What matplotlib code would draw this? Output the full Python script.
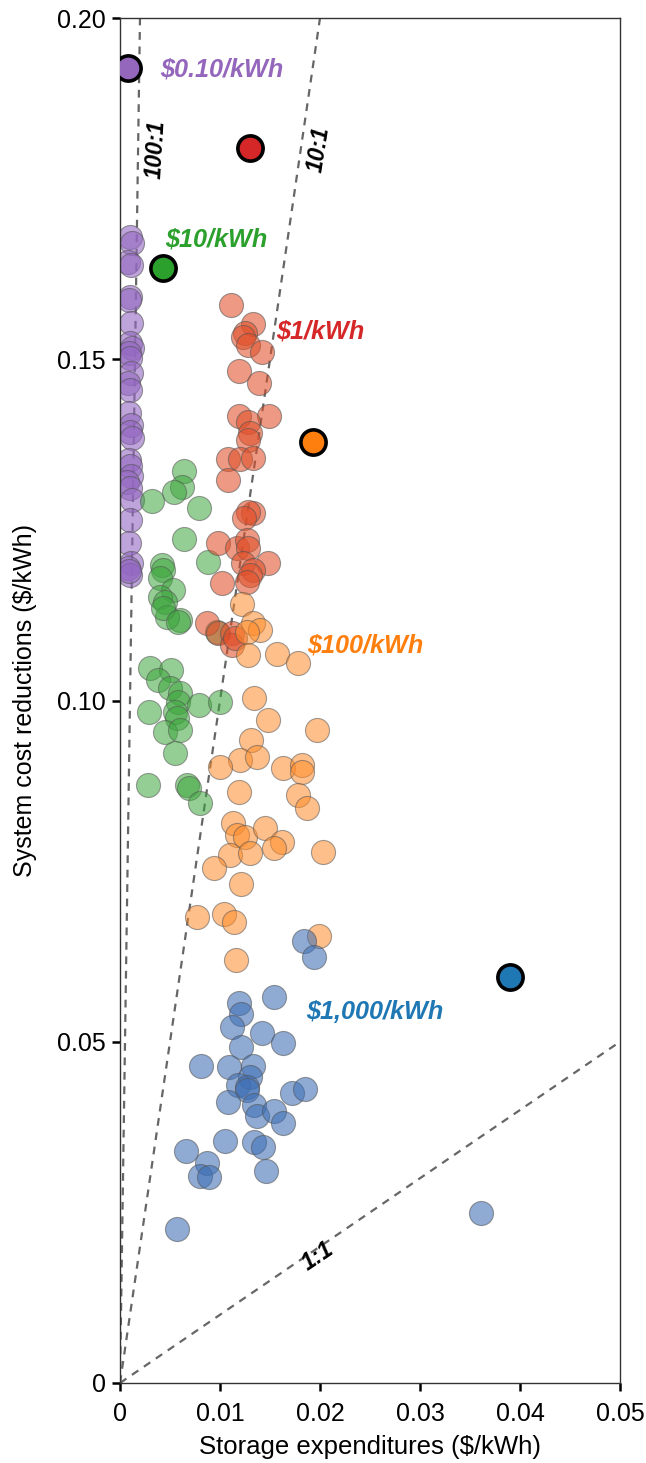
import matplotlib
matplotlib.use("Agg")
import matplotlib.pyplot as plt

plt.rcParams['font.family'] = ['Liberation Sans', 'DejaVu Sans']

# ---------------- data ----------------
purple_x = [0.0010, 0.0012, 0.0008, 0.0011, 0.0010, 0.0009, 0.0011, 0.0010, 0.0012, 0.0009,
            0.0010, 0.0011, 0.0008, 0.0010, 0.0009, 0.0011, 0.0010, 0.0012, 0.0009, 0.0010,
            0.0011, 0.0007, 0.0010, 0.0012, 0.0010, 0.0009, 0.0011, 0.0008, 0.0010, 0.0009]
purple_y = [0.1679, 0.1670, 0.1642, 0.1638, 0.1591, 0.1587, 0.1553, 0.1524, 0.1516, 0.1509,
            0.1502, 0.1480, 0.1465, 0.1455, 0.1421, 0.1404, 0.1393, 0.1385, 0.1352, 0.1344,
            0.1329, 0.1320, 0.1311, 0.1294, 0.1264, 0.1231, 0.1201, 0.1194, 0.1184, 0.1190]

green_x = [0.0064, 0.0062, 0.0054, 0.0032, 0.0079, 0.0064, 0.0042, 0.0043, 0.0040, 0.0053,
           0.0040, 0.0045, 0.0088, 0.0060, 0.0047, 0.0043, 0.0058, 0.0097, 0.0030, 0.0051,
           0.0038, 0.0050, 0.0060, 0.0058, 0.0079, 0.0100, 0.0029, 0.0055, 0.0057, 0.0045,
           0.0060, 0.0055, 0.0028, 0.0067, 0.0069, 0.0080]
green_y = [0.1336, 0.1313, 0.1305, 0.1292, 0.1282, 0.1237, 0.1199, 0.1191, 0.1179, 0.1162,
           0.1152, 0.1144, 0.1203, 0.1118, 0.1122, 0.1136, 0.1115, 0.1100, 0.1048, 0.1045,
           0.1030, 0.1018, 0.1011, 0.0998, 0.0993, 0.0998, 0.0983, 0.0983, 0.0974, 0.0954,
           0.0957, 0.0923, 0.0876, 0.0876, 0.0872, 0.0850]

red_x = [0.0111, 0.0133, 0.0125, 0.0123, 0.0128, 0.0142, 0.0119, 0.0139, 0.0119, 0.0149,
         0.0128, 0.0130, 0.0128, 0.0108, 0.0120, 0.0133, 0.0108, 0.0133, 0.0128, 0.0124,
         0.0098, 0.0117, 0.0127, 0.0128, 0.0148, 0.0123, 0.0133, 0.0130, 0.0102, 0.0127,
         0.0087, 0.0098, 0.0112, 0.0112, 0.0115]
red_y = [0.1579, 0.1552, 0.1538, 0.1533, 0.1521, 0.1511, 0.1483, 0.1465, 0.1417, 0.1417,
         0.1408, 0.1392, 0.1382, 0.1354, 0.1354, 0.1355, 0.1323, 0.1275, 0.1276, 0.1267,
         0.1231, 0.1223, 0.1235, 0.1223, 0.1201, 0.1201, 0.1191, 0.1184, 0.1172, 0.1174,
         0.1114, 0.1099, 0.1099, 0.1081, 0.1092]

orange_x = [0.0122, 0.0133, 0.0140, 0.0127, 0.0128, 0.0157, 0.0178, 0.0134, 0.0148, 0.0197,
            0.0131, 0.0120, 0.0137, 0.0100, 0.0163, 0.0182, 0.0182, 0.0119, 0.0178, 0.0187,
            0.0113, 0.0117, 0.0125, 0.0145, 0.0162, 0.0154, 0.0110, 0.0130, 0.0203, 0.0094,
            0.0121, 0.0077, 0.0104, 0.0114, 0.0199, 0.0116]
orange_y = [0.1141, 0.1114, 0.1103, 0.1100, 0.1067, 0.1068, 0.1055, 0.1004, 0.0971, 0.0957,
            0.0942, 0.0913, 0.0917, 0.0903, 0.0901, 0.0905, 0.0895, 0.0866, 0.0862, 0.0842,
            0.0821, 0.0803, 0.0800, 0.0813, 0.0793, 0.0784, 0.0774, 0.0777, 0.0778, 0.0755,
            0.0731, 0.0683, 0.0687, 0.0675, 0.0655, 0.0620]

blue_x = [0.0184, 0.0194, 0.0154, 0.0119, 0.0121, 0.0112, 0.0142, 0.0163, 0.0121, 0.0081,
          0.0109, 0.0133, 0.0130, 0.0118, 0.0127, 0.0127, 0.0108, 0.0134, 0.0137, 0.0154,
          0.0163, 0.0172, 0.0185, 0.0105, 0.0134, 0.0143, 0.0066, 0.0087, 0.0080, 0.0089,
          0.0146, 0.0057, 0.0361]
blue_y = [0.0648, 0.0624, 0.0566, 0.0557, 0.0541, 0.0522, 0.0513, 0.0498, 0.0492, 0.0464,
          0.0463, 0.0464, 0.0448, 0.0437, 0.0434, 0.0429, 0.0412, 0.0407, 0.0391, 0.0399,
          0.0381, 0.0425, 0.0431, 0.0355, 0.0353, 0.0346, 0.0340, 0.0322, 0.0303, 0.0302,
          0.0311, 0.0226, 0.0249]

# highlighted points (one per storage cost)
cost_labels = ["$0.10/kWh", "$10/kWh", "$1/kWh", "$100/kWh", "$1,000/kWh"]
highlight_x = [0.0008, 0.0043, 0.0130, 0.0193, 0.0390]
highlight_y = [0.1927, 0.1634, 0.1810, 0.1379, 0.0595]

ratios = [100, 10, 1]
ratio_labels = ["100:1", "10:1", "1:1"]

x_ticks = [0, 0.01, 0.02, 0.03, 0.04, 0.05]
x_tick_labels = ["0", "0.01", "0.02", "0.03", "0.04", "0.05"]
y_ticks = [0, 0.05, 0.10, 0.15, 0.20]
y_tick_labels = ["0", "0.05", "0.10", "0.15", "0.20"]

# ---------------- styling ----------------
light = {"purple": "#9468c2", "green": "#3da63d", "red": "#e0502a",
         "orange": "#ff8c2a", "blue": "#3f6fb5"}
alphas = {"purple": 0.6, "green": 0.55, "red": 0.58, "orange": 0.55, "blue": 0.58}
dark = ["#9467bd", "#2ca02c", "#d62728", "#ff7f0e", "#1f77b4"]
label_colors = ["#9467bd", "#2ca02c", "#d62728", "#ff7f0e", "#1f77b4"]

fig = plt.figure(figsize=(6.46, 14.63), dpi=100)
ax = fig.add_axes([120/646, 80/1463, 500/646, 1365/1463])

xmax, ymax = 0.05, 0.20
for r in ratios:
    ax.plot([0, xmax], [0, r * xmax], ls=(0, (3.5, 3)), color="#666666", lw=1.6, zorder=1)

series = [(purple_x, purple_y, "purple"),
          (green_x, green_y, "green"),
          (red_x, red_y, "red"),
          (orange_x, orange_y, "orange"),
          (blue_x, blue_y, "blue")]
for xs, ys, key in series:
    ax.scatter(xs, ys, s=300, facecolor=light[key], alpha=alphas[key], edgecolor="#555555",
               linewidth=0.8, zorder=2)

for i in range(len(highlight_x)):
    ax.scatter([highlight_x[i]], [highlight_y[i]], s=330, facecolor=dark[i],
               edgecolor="black", linewidth=2.6, zorder=4)

label_pos = [(0.0040, 0.1924), (0.0045, 0.1675), (0.0156, 0.1540),
             (0.0187, 0.1081), (0.0186, 0.0544)]
for i, lab in enumerate(cost_labels):
    ax.text(label_pos[i][0], label_pos[i][1], lab.replace("$", r"\$"), color=label_colors[i],
            fontsize=18.2, fontweight="bold", fontstyle="italic", ha="left", va="center",
            zorder=5)

ratio_pos = [(0.0036, 0.1807, 86.5), (0.0199, 0.1807, 81), (0.0198, 0.0186, 34)]
for (px, py, rot), lab in zip(ratio_pos, ratio_labels):
    ax.text(px, py, lab, color="black", fontsize=16.5, fontweight="bold", fontstyle="italic",
            rotation=rot, ha="center", va="center", rotation_mode="anchor", zorder=5)

ax.set_xlim(0, xmax)
ax.set_ylim(0, ymax)
ax.set_xticks(x_ticks)
ax.set_xticklabels(x_tick_labels)
ax.set_yticks(y_ticks)
ax.set_yticklabels(y_tick_labels)
ax.tick_params(axis="both", direction="out", length=6, width=1.8, labelsize=18, color="black")
ax.tick_params(axis="x", pad=8)
ax.tick_params(axis="y", pad=4)
for sp in ax.spines.values():
    sp.set_linewidth(1.0)
    sp.set_color("#333333")

ax.set_xlabel("Storage expenditures ($/kWh)", fontsize=18.5, labelpad=6)
ax.set_ylabel("System cost reductions ($/kWh)", fontsize=18, labelpad=15)

fig.savefig("out.png", dpi=100)
